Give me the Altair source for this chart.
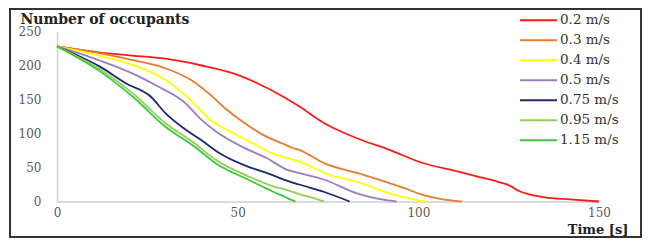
import altair as alt
import pandas as pd

speeds = ["0.2 m/s", "0.3 m/s", "0.4 m/s", "0.5 m/s", "0.75 m/s", "0.95 m/s", "1.15 m/s"]
colors = ["#FF1A1A", "#E97B2C", "#FFFF00", "#9A7FC0", "#1F2A6E", "#92D050", "#3CC83C"]

t_02 = [0, 12, 20, 30, 40, 49, 55, 63, 67, 74, 83, 92, 101, 111, 117, 122, 125, 128, 131, 135, 142, 150]
n_02 = [228, 219, 215, 210, 200, 188, 175, 153, 140, 115, 93, 76, 57, 44, 36, 29, 24, 15, 10, 6, 3, 0]

t_03 = [0, 12, 21, 30, 37, 42, 47, 52, 57, 63, 65, 67, 74, 83, 92, 97, 101, 106, 112]
n_03 = [228, 218, 208, 196, 179, 159, 135, 115, 98, 84, 79, 76, 56, 42, 27, 18, 10, 4, 0]

t_04 = [0, 12, 21, 30, 37, 42, 49, 54, 60, 67, 75, 83, 92, 97, 102]
n_04 = [228, 214, 201, 179, 149, 122, 100, 86, 70, 59, 40, 29, 12, 5, 0]

t_05 = [0, 12, 21, 28, 35, 40, 44, 51, 58, 64, 67, 74, 83, 88, 94]
n_05 = [228, 207, 188, 169, 147, 120, 103, 81, 64, 46, 42, 32, 12, 5, 0]

t_075 = [0, 12, 19, 26, 30, 35, 40, 45, 53, 58, 64, 67, 74, 81]
n_075 = [228, 198, 174, 154, 130, 108, 90, 71, 51, 42, 30, 25, 14, 0]

t_095 = [0, 12, 21, 30, 38, 44, 53, 60, 63, 67, 71, 74]
n_095 = [228, 194, 159, 115, 86, 61, 37, 22, 18, 11, 5, 0]

t_115 = [0, 12, 21, 30, 38, 44, 53, 58, 60, 63, 65, 66]
n_115 = [228, 191, 154, 110, 81, 56, 32, 19, 14, 7, 2, 0]

series_t = [t_02, t_03, t_04, t_05, t_075, t_095, t_115]
series_n = [n_02, n_03, n_04, n_05, n_075, n_095, n_115]

rows = []
for s, ts, ns in zip(speeds, series_t, series_n):
    for i, (t, n) in enumerate(zip(ts, ns)):
        rows.append({"speed": s, "t": t, "n": n, "order": i})
df = pd.DataFrame(rows)

FONT = "DejaVu Serif"

lines = alt.Chart(df).mark_line(strokeWidth=1.8, interpolate="monotone").encode(
    x=alt.X("t:Q", scale=alt.Scale(domain=[0, 150], nice=False),
            axis=alt.Axis(values=[0, 50, 100, 150], title="Time [s]", titleAngle=0,
                          titleAlign="right", titleX=571, titleY=27.5, titleBaseline="middle",
                          titleFont=FONT, titleFontSize=13, titleFontWeight="bold", titleColor="#222222",
                          labelFont=FONT, labelFontSize=12, labelColor="#595959", labelPadding=6,
                          labelFlush=False, labelOverlap=False,
                          ticks=False, grid=False, domainColor="#D0D0D0", domainWidth=1.5)),
    y=alt.Y("n:Q", scale=alt.Scale(domain=[0, 250], nice=False),
            axis=alt.Axis(values=[0, 50, 100, 150, 200, 250], title="Number of occupants", titleAngle=0,
                          titleAlign="left", titleX=-37, titleY=-12.5, titleBaseline="middle",
                          titleFont=FONT, titleFontSize=14, titleFontWeight="bold", titleColor="#222222",
                          labelFont=FONT, labelFontSize=12, labelColor="#595959", labelPadding=16,
                          labelFlush=False, labelOverlap=False,
                          ticks=False, grid=False, domainColor="#D0D0D0", domainWidth=1.5)),
    color=alt.Color("speed:N", scale=alt.Scale(domain=speeds, range=colors),
                    legend=alt.Legend(title=None, orient="none", legendX=462, legendY=-21,
                                      symbolType="stroke", symbolSize=1369, symbolStrokeWidth=2,
                                      clipHeight=19.4, rowPadding=0, padding=0, labelOffset=2,
                                      labelFont=FONT, labelFontSize=13.5, labelColor="#333333")),
    order="order:Q",
)

frame = alt.Chart(pd.DataFrame({"a": [0]})).mark_rect(filled=False, stroke="#333333", strokeWidth=2).encode(
    x=alt.value(-47), x2=alt.value(584), y=alt.value(-22.5), y2=alt.value(205.5)
)

chart = alt.layer(lines, frame).properties(
    width=542, height=170,
    autosize=alt.AutoSizeParams(type="none"),
    padding={"left": 49, "top": 23.5, "right": 43, "bottom": 37.5},
).configure_view(stroke=None)

chart.save("out.html", embed_options={"renderer": "svg", "actions": False})
